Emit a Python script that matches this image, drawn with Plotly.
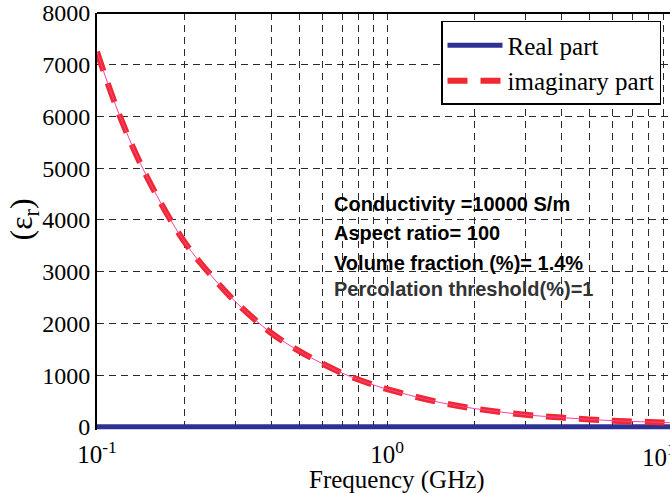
import plotly.graph_objects as go

# ---- data ----
freq_ghz = [0.1, 0.12, 0.15, 0.2, 0.25, 0.3, 0.4, 0.5, 0.6, 0.7, 0.8, 0.9,
            1.0, 1.5, 2.0, 3.0, 4.0, 5.0, 6.0, 7.0, 8.0, 9.0, 10.0]
imag_part = [7250, 6000, 4790, 3580, 2900, 2420, 1810, 1460, 1220, 1040, 910, 810,
             730, 480, 355, 235, 180, 145, 120, 105, 95, 85, 78]
real_part = [2, 2, 2, 2, 2, 2, 2, 2, 2, 2, 2, 2,
             2, 2, 2, 2, 2, 2, 2, 2, 2, 2, 2]

x_grid_vals = [0.1, 0.2, 0.3, 0.4, 0.5, 0.6, 0.7, 0.8, 0.9, 1, 2, 3, 4, 5, 6, 7, 8, 9]
x_grid_text = ["10<sup>-1</sup>", "", "", "", "", "", "", "", "", "10<sup>0</sup>",
               "", "", "", "", "", "", "", ""]
y_tick_vals = [0, 1000, 2000, 3000, 4000, 5000, 6000, 7000, 8000]

info_lines = ["Conductivity =10000 S/m", "Aspect ratio= 100",
              "Volume fraction (%)= 1.4%", "Percolation threshold(%)=1"]
info_colors = ["#000000", "#000000", "#000000", "#333333"]

SERIF = "Liberation Serif"
SANS = "Liberation Sans"

fig = go.Figure()
fig.add_trace(go.Scatter(x=freq_ghz, y=real_part, mode="lines", name="Real part",
                         line=dict(color="#2E3192", width=5)))
fig.add_trace(go.Scatter(x=freq_ghz, y=imag_part, mode="lines", name="imaginary part",
                         line=dict(color="#EE2A2F", width=6, dash="20px,13px", shape="spline")))
fig.add_trace(go.Scatter(x=freq_ghz, y=imag_part, mode="lines", showlegend=False,
                         line=dict(color="#FF3FA0", width=1, shape="spline")))

W, H = 670, 493
ml, mr, mt, mb = 97, 0, 10, 63
pw = W - ml - mr
ph = H - mt - mb
decade_px = 290

fig.update_layout(
    width=W, height=H,
    margin=dict(l=ml, r=mr, t=mt, b=mb),
    paper_bgcolor="white", plot_bgcolor="white",
    font=dict(family=SERIF, size=24, color="black"),
    xaxis=dict(type="log", range=[-1, -1 + pw / decade_px],
               tickvals=x_grid_vals, ticktext=x_grid_text,
               showgrid=True, gridcolor="#2a2a2a", griddash="7px,5px", gridwidth=1,
               showline=False, ticks="", ticklabelstandoff=7,
               ticklabeloverflow="allow",
               tickfont=dict(family=SERIF, size=25)),
    yaxis=dict(range=[-60, 8000], tickvals=y_tick_vals,
               showgrid=True, gridcolor="#2a2a2a", griddash="7px,5px", gridwidth=1,
               zeroline=False, showline=True, linecolor="black", linewidth=2,
               ticks="", ticklabelstandoff=0, ticklabeloverflow="allow",
               tickfont=dict(family=SERIF, size=24)),
    legend=dict(x=(441 - ml) / pw, y=1 - (18 - mt) / ph, xanchor="left", yanchor="top",
                bgcolor="white", bordercolor="black", borderwidth=1.5,
                font=dict(family=SERIF, size=25), itemwidth=55,
                tracegroupgap=0),
    showlegend=True,
)

# top border
fig.add_shape(type="line", xref="paper", yref="paper", x0=0, x1=1, y0=1, y1=1,
              line=dict(color="black", width=2))
# white box behind the info text
fig.add_shape(type="rect", xref="paper", yref="paper",
              x0=(318 - ml) / pw, x1=(622 - ml) / pw,
              y0=1 - (298 - mt) / ph, y1=1 - (185 - mt) / ph,
              fillcolor="white", line=dict(width=0), layer="below")

line_y_px = [202, 232, 262, 288]
for txt, col, ypx in zip(info_lines, info_colors, line_y_px):
    fig.add_annotation(text="<b>" + txt + "</b>", xref="paper", yref="paper",
                       x=(332 - ml) / pw, y=1 - (ypx - mt) / ph,
                       xanchor="left", yanchor="middle", showarrow=False,
                       font=dict(family=SANS, size=20, color=col))

# partly clipped 10^1 tick label at right edge
fig.add_annotation(text="10<sup>1</sup>", xref="paper", yref="paper",
                   x=(659 - ml) / pw, y=0, yshift=-7,
                   xanchor="center", yanchor="top", showarrow=False,
                   font=dict(family=SERIF, size=25))

# axis titles
fig.add_annotation(text="Frequency (GHz)", xref="paper", yref="paper",
                   x=(397 - ml) / pw, y=1 - (480 - mt) / ph,
                   xanchor="center", yanchor="middle", showarrow=False,
                   font=dict(family=SERIF, size=25))
fig.add_annotation(text="(ε<sub>r</sub>)", xref="paper", yref="paper",
                   x=(24 - ml) / pw, y=1 - (218 - mt) / ph, textangle=-90,
                   xanchor="center", yanchor="middle", showarrow=False,
                   font=dict(family=SERIF, size=32))

fig.write_html("out.html")
